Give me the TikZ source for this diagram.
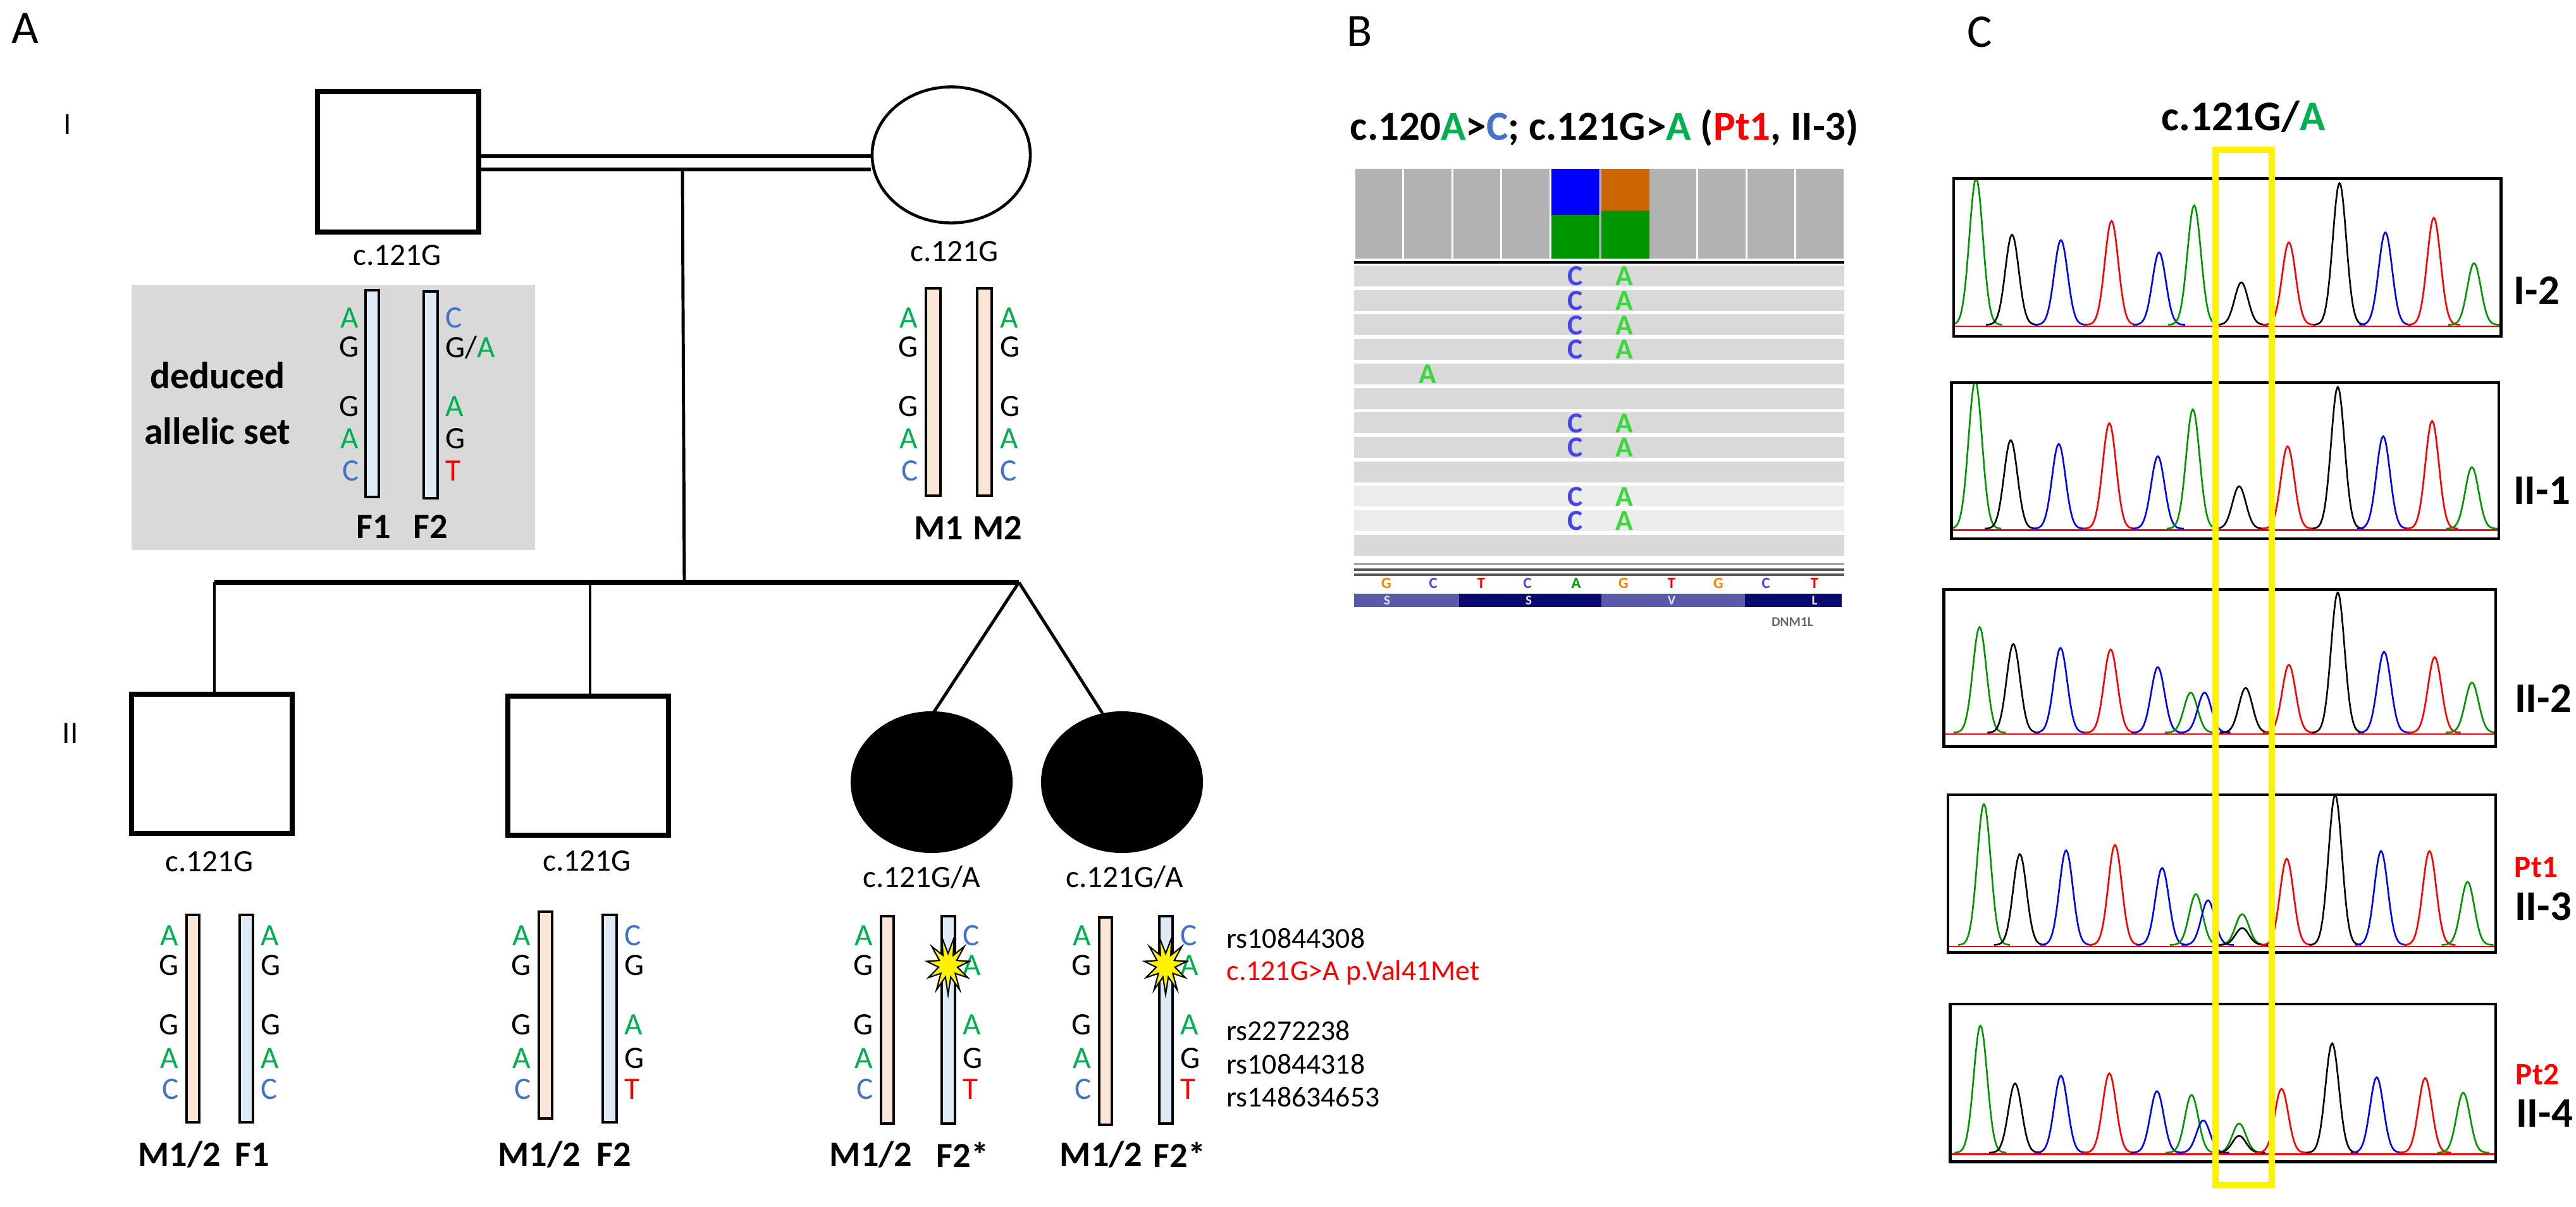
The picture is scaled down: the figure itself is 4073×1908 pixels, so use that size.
\documentclass[tikz,border=0pt]{standalone}
\usepackage{fontspec}
\setmainfont{Carlito}
\usetikzlibrary{shapes.geometric}
\definecolor{peach}{RGB}{251,229,214}
\definecolor{lblue}{RGB}{222,235,247}
\definecolor{gbox}{RGB}{217,217,217}
\definecolor{ag}{RGB}{0,176,80}
\definecolor{cb}{RGB}{68,114,196}
\definecolor{tr}{RGB}{255,0,0}
\definecolor{igvc}{RGB}{70,70,230}
\definecolor{igva}{RGB}{60,215,60}
\definecolor{navyL}{RGB}{90,90,170}
\definecolor{navyD}{RGB}{10,10,110}
\definecolor{tg}{RGB}{0,150,0}
\newcommand\al[5]{\node[allele,#1,text=#4] (#5) at #2 {#3};}
\newcommand\pk[4]{\draw[#4,line width=0.75pt] plot[domain={#1-60}:{#1+60},samples=31,smooth] (\x,{#2-#3*exp(-((\x-#1)/22)^2)});}
\newcommand\burst[3]{\coordinate (#3) at (#1,#2);
 \filldraw[fill=yellow,draw=black,line width=0.6pt] plot[samples at={0,1,...,21}] ({#1+ifthenelse(mod(\x,2)==0,34,15)*sin(\x*360/22)},{#2+ifthenelse(mod(\x,2)==0,46,19)*cos(\x*360/22)}) -- cycle;}
\begin{document}
\begin{tikzpicture}[x=0.01cm,y=-0.01cm,
  allele/.style={font=\fontsize{14}{14}\selectfont,inner sep=0pt},
  lbl/.style={font=\fontsize{14}{14}\selectfont,inner sep=0pt},
  blbl/.style={font=\fontsize{16}{16}\selectfont\bfseries,inner sep=0pt},
  panel/.style={font=\fontsize{21}{21}\selectfont,inner sep=0pt},
  gen/.style={font=\fontsize{14}{14}\selectfont,inner sep=0pt},
  male/.style={draw,line width=2.3pt,fill=white},
  fem/.style={draw,line width=1.3pt,fill=white},
  aff/.style={fill=black},
  ped/.style={line width=1.4pt},
  barM/.style={draw,line width=0.9pt,fill=peach},
  barF/.style={draw,line width=0.9pt,fill=lblue},
  clbl/.style={font=\fontsize{19}{19}\selectfont\bfseries,inner sep=0pt},
  ptl/.style={font=\fontsize{14}{14}\selectfont\bfseries,text=tr,inner sep=0pt},
  rsl/.style={font=\fontsize{13}{13}\selectfont,inner sep=0pt,anchor=west}]
\useasboundingbox (0,0) rectangle (4073,1908);
\fill[white] (0,0) rectangle (4073,1908);

% ---------------- Panel A ----------------
\node[panel] (pA) at (40,45) {A};
\node[gen] (g1) at (107,197) {I};
\node[gen] (g2) at (111,1160) {II};

\draw[male] (502,145) rectangle (757,367);
\node[fem,ellipse,minimum width=2.5cm,minimum height=2.15cm] (mo) at (1504,245) {};
\draw[line width=1.8pt] (757,247) -- (mo.west |- 0,247);
\draw[line width=1.8pt] (757,268) -- (mo.west |- 0,268);
\coordinate (d0) at (1079,268);
\coordinate (d1) at (1082,921);
\draw[ped] (d0) -- (d1);
\coordinate (sL) at (339,921);
\coordinate (sR) at (1611,921);
\draw[line width=2.2pt] (sL) -- (sR);
\coordinate (c2t) at (933,921);
\draw[ped] (sL) -- (339,1098);
\draw[ped] (c2t) -- (933,1101);
\draw[male] (208,1098) rectangle (462,1318);
\draw[male] (803,1101) rectangle (1057,1321);
\node[ellipse,aff,minimum width=2.56cm,minimum height=2.24cm] (t1) at (1473,1237) {};
\node[ellipse,aff,minimum width=2.56cm,minimum height=2.24cm] (t2) at (1774,1237) {};
\draw[ped] (sR) -- (1476,1127);
\draw[ped] (sR) -- (1743,1128);

\node[lbl] (gF) at (628,404) {c.121G};
\node[lbl] (gM) at (1509,398) {c.121G};
\node[lbl] (gc1) at (331,1363) {c.121G};
\node[lbl] (gc2) at (928,1362) {c.121G};
\node[lbl] (gt1) at (1457,1387) {c.121G/A};
\node[lbl] (gt2) at (1778,1387) {c.121G/A};

% deduced allelic set box
\fill[gbox] (208,451) rectangle (846,870);
\node[align=center,font=\fontsize{17}{25}\selectfont\bfseries,inner sep=0pt] (ded) at (344,638) {deduced\\allelic set};
\draw[barF] (578,459) rectangle (599,786);
\draw[barF] (670,461) rectangle (692,788);
\al{anchor=east}{(568,503)}{A}{ag}{f1a}
\al{anchor=east}{(568,549)}{G}{black}{f1b}
\al{anchor=east}{(568,643)}{G}{black}{f1c}
\al{anchor=east}{(568,694)}{A}{ag}{f1d}
\al{anchor=east}{(568,745)}{C}{cb}{f1e}
\al{anchor=west}{(704,503)}{C}{cb}{f2a}
\node[allele,anchor=west] (f2b) at (704,549) {G/\textcolor{ag}{A}};
\al{anchor=west}{(704,643)}{A}{ag}{f2c}
\al{anchor=west}{(704,694)}{G}{black}{f2d}
\al{anchor=west}{(704,745)}{T}{tr}{f2e}
\node[blbl] (lF1) at (591,833) {F1};
\node[blbl] (lF2) at (681,833) {F2};

% mother bars
\draw[barM] (1464,456) rectangle (1487,784);
\draw[barM] (1545,456) rectangle (1568,784);
\al{anchor=east}{(1452,503)}{A}{ag}{m1a}
\al{anchor=east}{(1452,549)}{G}{black}{m1b}
\al{anchor=east}{(1452,643)}{G}{black}{m1c}
\al{anchor=east}{(1452,694)}{A}{ag}{m1d}
\al{anchor=east}{(1452,745)}{C}{cb}{m1e}
\al{anchor=west}{(1581,503)}{A}{ag}{m2a}
\al{anchor=west}{(1581,549)}{G}{black}{m2b}
\al{anchor=west}{(1581,643)}{G}{black}{m2c}
\al{anchor=west}{(1581,694)}{A}{ag}{m2d}
\al{anchor=west}{(1581,745)}{C}{cb}{m2e}
\node[blbl] (lM1) at (1484,835) {M1};
\node[blbl] (lM2) at (1577,835) {M2};

% children bars
\draw[barM] (295,1447) rectangle (315,1775);
\draw[barF] (379,1447) rectangle (400,1775);
\draw[barM] (852,1442) rectangle (873,1769);
\draw[barF] (953,1447) rectangle (975,1775);
\draw[barM] (1393,1449) rectangle (1413,1777);
\draw[barF] (1489,1449) rectangle (1510,1777);
\draw[barM] (1738,1451) rectangle (1758,1779);
\draw[barF] (1833,1449) rectangle (1854,1777);

\foreach \xx/\nm in {283/ca,840/cb,1381/cc,1726/cd}{
  \node[allele,anchor=east,text=ag] (\nm1) at (\xx,1480) {A};
  \node[allele,anchor=east] (\nm2) at (\xx,1527) {G};
  \node[allele,anchor=east] (\nm3) at (\xx,1621) {G};
  \node[allele,anchor=east,text=ag] (\nm4) at (\xx,1674) {A};
  \node[allele,anchor=east,text=cb] (\nm5) at (\xx,1723) {C};
}
\al{anchor=west}{(412,1480)}{A}{ag}{fa1}
\al{anchor=west}{(412,1527)}{G}{black}{fa2}
\al{anchor=west}{(412,1621)}{G}{black}{fa3}
\al{anchor=west}{(412,1674)}{A}{ag}{fa4}
\al{anchor=west}{(412,1723)}{C}{cb}{fa5}
\foreach \xx/\nm in {987/fb,1522/fc,1866/fd}{
  \node[allele,anchor=west,text=cb] (\nm1) at (\xx,1480) {C};
  \node[allele,anchor=west,text=ag] (\nm3) at (\xx,1621) {A};
  \node[allele,anchor=west] (\nm4) at (\xx,1674) {G};
  \node[allele,anchor=west,text=tr] (\nm5) at (\xx,1723) {T};
}
\al{anchor=west}{(987,1527)}{G}{black}{fb2}
\al{anchor=west}{(1522,1527)}{A}{ag}{fc2}
\al{anchor=west}{(1866,1527)}{A}{ag}{fd2}
\burst{1499}{1527}{st1}
\burst{1843}{1527}{st2}
\node[rsl] (rs1) at (1939,1484) {rs10844308};
\node[rsl,text=tr] (rs2) at (1939,1538) {c.121G>A p.Val41Met};
\node[rsl] (rs3) at (1939,1630) {rs2272238};
\node[rsl] (rs4) at (1939,1683) {rs10844318};
\node[rsl] (rs5) at (1939,1735) {rs148634653};

\node[blbl] (b1) at (284,1826) {M1/2};
\node[blbl] (b2) at (399,1826) {F1};
\node[blbl] (b3) at (853,1826) {M1/2};
\node[blbl] (b4) at (971,1826) {F2};
\node[blbl] (b5) at (1377,1826) {M1/2};
\node[blbl] (b6) at (1522,1826) {F2*};
\node[blbl] (b7) at (1741,1826) {M1/2};
\node[blbl] (b8) at (1865,1826) {F2*};

% ---------------- Panel B ----------------
\node[panel] (pB) at (2150,50) {B};
\node[font=\fontsize{18.5}{18.5}\selectfont\bfseries,inner sep=0pt] (tB) at (2537,202)
 {c.120\textcolor{ag}{A}>\textcolor{cb}{C}; c.121G>\textcolor{ag}{A} (\textcolor{tr}{Pt1}, II-3)};
\foreach \i in {0,...,9}{
  \fill[gray!60] ({2141+77.5*\i+1.5},267) rectangle ({2141+77.5*(\i+1)-1.5},409);
}
\fill[blue] (2453,267) rectangle (2529,340);
\fill[tg] (2453,340) rectangle (2529,409);
\fill[orange!80!black] (2532,267) rectangle (2608,333);
\fill[tg] (2532,333) rectangle (2608,409);
\draw[line width=1.4pt] (2141,415) -- (2916,415);
\foreach \r in {0,...,11}{
  \pgfmathsetmacro\yt{420+38.7*\r}
  \ifnum\r=9 \fill[gray!15] (2141,\yt) rectangle (2916,\yt+33);
  \else\ifnum\r=10 \fill[gray!15] (2141,\yt) rectangle (2916,\yt+33);
  \else \fill[gray!30] (2141,\yt) rectangle (2916,\yt+33);\fi\fi
}
\foreach \r in {0,1,2,3,6,7,9,10}{
  \node[font=\fontsize{13}{13}\selectfont\bfseries,text=igvc,inner sep=0pt] (rc\r) at (2491,{437+38.7*\r}) {C};
  \node[font=\fontsize{13}{13}\selectfont\bfseries,text=igva,inner sep=0pt] (ra\r) at (2568,{437+38.7*\r}) {A};
}
\node[font=\fontsize{13}{13}\selectfont\bfseries,text=igva,inner sep=0pt] (rx) at (2257,{437+38.7*4}) {A};
\draw[gray,line width=0.6pt] (2141,892) -- (2916,892);
\draw[gray!70!black,line width=0.9pt] (2141,901) -- (2916,901);
\draw[gray!70!black,line width=0.9pt] (2141,909) -- (2916,909);
\foreach \xx/\t/\c in {2192/G/orange,2266/C/igvc,2342/T/tr,2415/C/igvc,2492/A/tg,2567/G/orange,2643/T/tr,2717/G/orange,2792/C/igvc,2869/T/tr}{
  \node[font=\fontsize{7}{7}\selectfont\bfseries,text=\c,inner sep=0pt] at (\xx,922) {\t};
}
\fill[navyL] (2141,939) rectangle (2307,960);
\fill[navyD] (2307,939) rectangle (2532,960);
\fill[navyL] (2532,939) rectangle (2759,960);
\fill[navyD] (2759,939) rectangle (2912,960);
\foreach \xx/\t in {2193/S,2417/S,2643/V,2869/L}{
  \node[font=\fontsize{6}{6}\selectfont\bfseries,text=white!80!gray,inner sep=0pt] at (\xx,950) {\t};
}
\node[font=\fontsize{6}{6}\selectfont\bfseries,text=gray!80!black,inner sep=0pt] (dnm) at (2834,984) {DNM1L};

% ---------------- Panel C ----------------
\node[panel] (pC) at (3130,51) {C};
\node[clbl] (tC) at (3547,185) {c.121G/\textcolor{ag}{A}};
\begin{scope}[shift={(3000,0)},xscale=0.684,yscale=1.217]
 \begin{scope}
  \clip (130,232) rectangle (1395,437);
  \draw[red,line width=0.6pt] (130,424) -- (1395,424);
  \foreach \px/\h/\c in {182/190/tg,265/117/black,378/110/blue,495/135/red,605/94/blue,686/155/tg,795/55/black,905/107/red,1022/184/black,1128/120/blue,1240/139/red,1333/80/tg}{\pk{\px}{422}{\h}{\c}}
 \end{scope}
 \draw[line width=1.3pt] (130,232) rectangle (1395,437);
 \begin{scope}
  \clip (125,497) rectangle (1390,700);
  \draw[red,line width=0.6pt] (125,689) -- (1390,689);
  \foreach \px/\h/\c in {180/192/tg,262/115/black,373/110/blue,490/137/red,602/94/blue,683/155/tg,790/55/black,902/107/red,1018/184/black,1123/120/blue,1236/140/red,1328/80/tg}{\pk{\px}{687}{\h}{\c}}
 \end{scope}
 \draw[line width=1.3pt] (125,497) rectangle (1390,700);
 \begin{scope}
  \clip (107,766) rectangle (1383,970);
  \draw[red,line width=0.6pt] (107,954) -- (1383,954);
  \foreach \px/\h/\c in {190/137/tg,268/115/black,377/110/blue,493/108/red,602/85/blue,678/52/tg,710/52/blue,805/58/black,905/88/red,1018/182/black,1125/105/blue,1242/98/red,1328/65/tg}{\pk{\px}{952}{\h}{\c}}
 \end{scope}
 \draw[line width=1.3pt] (107,766) rectangle (1383,970);
 \begin{scope}
  \clip (117,1033) rectangle (1383,1238);
  \draw[red,line width=0.6pt] (117,1230) -- (1383,1230);
  \foreach \px/\h/\c in {200/183/tg,283/118/black,390/123/blue,503/130/red,612/100/blue,690/66/tg,718/58/blue,797/40/tg,797/22/black,900/112/red,1012/195/black,1118/122/blue,1230/122/red,1318/82/tg}{\pk{\px}{1228}{\h}{\c}}
 \end{scope}
 \draw[line width=1.3pt] (117,1033) rectangle (1383,1238);
 \begin{scope}
  \clip (122,1305) rectangle (1383,1510);
  \draw[red,line width=0.6pt] (122,1500) -- (1383,1500);
  \foreach \px/\h/\c in {192/165/tg,272/90/black,378/100/blue,490/103/red,600/80/blue,680/75/tg,707/42/blue,790/38/tg,790/22/black,888/83/red,1005/142/black,1108/98/blue,1220/97/red,1308/78/tg}{\pk{\px}{1498}{\h}{\c}}
 \end{scope}
 \draw[line width=1.3pt] (122,1305) rectangle (1383,1510);
\end{scope}
\draw[yellow,line width=2.8pt] (3503,237) rectangle (3592,1874);
\node[clbl] (l1) at (4011,460) {I-2};
\node[clbl] (l2) at (4019,776) {II-1};
\node[clbl] (l3) at (4021,1105) {II-2};
\node[ptl] (p1) at (4010,1372) {Pt1};
\node[clbl] (l4) at (4021,1434) {II-3};
\node[ptl] (p2) at (4012,1700) {Pt2};
\node[clbl] (l5) at (4023,1761) {II-4};
\end{tikzpicture}
\end{document}
